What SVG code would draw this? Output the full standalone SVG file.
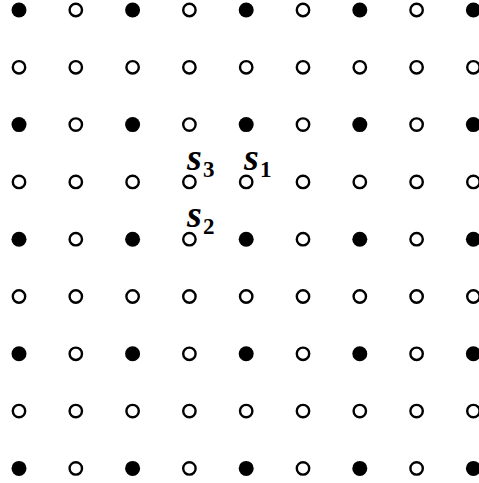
<svg xmlns="http://www.w3.org/2000/svg" width="479" height="483" viewBox="0 0 479 483">
<style>
.f{fill:#000;stroke:none}
.o{fill:#fff;stroke:#000;stroke-width:2.4}
.s{font-family:"Liberation Serif","Times New Roman",serif;font-weight:bold;font-style:italic;font-size:38px;fill:#000}
.d{font-family:"Liberation Serif","Times New Roman",serif;font-weight:bold;font-size:23px;fill:#000}
</style>
<rect width="479" height="483" fill="#fff"/>
<g id="connectors"/>
<g id="row0">
<g id="n0_0"><circle class="f" cx="19" cy="10" r="7.5"/></g>
<g id="n0_1"><circle class="o" cx="75.8" cy="10" r="6.2"/></g>
<g id="n0_2"><circle class="f" cx="132.6" cy="10" r="7.5"/></g>
<g id="n0_3"><circle class="o" cx="189.4" cy="10" r="6.2"/></g>
<g id="n0_4"><circle class="f" cx="246.2" cy="10" r="7.5"/></g>
<g id="n0_5"><circle class="o" cx="303" cy="10" r="6.2"/></g>
<g id="n0_6"><circle class="f" cx="359.8" cy="10" r="7.5"/></g>
<g id="n0_7"><circle class="o" cx="416.6" cy="10" r="6.2"/></g>
<g id="n0_8"><circle class="f" cx="473.4" cy="10" r="7.5"/></g>
</g>
<g id="row1">
<g id="n1_0"><circle class="o" cx="19" cy="67.3" r="6.2"/></g>
<g id="n1_1"><circle class="o" cx="75.8" cy="67.3" r="6.2"/></g>
<g id="n1_2"><circle class="o" cx="132.6" cy="67.3" r="6.2"/></g>
<g id="n1_3"><circle class="o" cx="189.4" cy="67.3" r="6.2"/></g>
<g id="n1_4"><circle class="o" cx="246.2" cy="67.3" r="6.2"/></g>
<g id="n1_5"><circle class="o" cx="303" cy="67.3" r="6.2"/></g>
<g id="n1_6"><circle class="o" cx="359.8" cy="67.3" r="6.2"/></g>
<g id="n1_7"><circle class="o" cx="416.6" cy="67.3" r="6.2"/></g>
<g id="n1_8"><circle class="o" cx="473.4" cy="67.3" r="6.2"/></g>
</g>
<g id="row2">
<g id="n2_0"><circle class="f" cx="19" cy="124.6" r="7.5"/></g>
<g id="n2_1"><circle class="o" cx="75.8" cy="124.6" r="6.2"/></g>
<g id="n2_2"><circle class="f" cx="132.6" cy="124.6" r="7.5"/></g>
<g id="n2_3"><circle class="o" cx="189.4" cy="124.6" r="6.2"/></g>
<g id="n2_4"><circle class="f" cx="246.2" cy="124.6" r="7.5"/></g>
<g id="n2_5"><circle class="o" cx="303" cy="124.6" r="6.2"/></g>
<g id="n2_6"><circle class="f" cx="359.8" cy="124.6" r="7.5"/></g>
<g id="n2_7"><circle class="o" cx="416.6" cy="124.6" r="6.2"/></g>
<g id="n2_8"><circle class="f" cx="473.4" cy="124.6" r="7.5"/></g>
</g>
<g id="row3">
<g id="n3_0"><circle class="o" cx="19" cy="181.9" r="6.2"/></g>
<g id="n3_1"><circle class="o" cx="75.8" cy="181.9" r="6.2"/></g>
<g id="n3_2"><circle class="o" cx="132.6" cy="181.9" r="6.2"/></g>
<g id="s3"><circle class="o" cx="189.4" cy="181.9" r="6.2"/><text class="s" x="187" y="170">s</text><text class="d" x="203" y="177">3</text></g>
<g id="s1"><circle class="o" cx="246.2" cy="181.9" r="6.2"/><text class="s" x="244" y="170">s</text><text class="d" x="260" y="177">1</text></g>
<g id="n3_5"><circle class="o" cx="303" cy="181.9" r="6.2"/></g>
<g id="n3_6"><circle class="o" cx="359.8" cy="181.9" r="6.2"/></g>
<g id="n3_7"><circle class="o" cx="416.6" cy="181.9" r="6.2"/></g>
<g id="n3_8"><circle class="o" cx="473.4" cy="181.9" r="6.2"/></g>
</g>
<g id="row4">
<g id="n4_0"><circle class="f" cx="19" cy="239.2" r="7.5"/></g>
<g id="n4_1"><circle class="o" cx="75.8" cy="239.2" r="6.2"/></g>
<g id="n4_2"><circle class="f" cx="132.6" cy="239.2" r="7.5"/></g>
<g id="s2"><circle class="o" cx="189.4" cy="239.2" r="6.2"/><text class="s" x="187" y="227">s</text><text class="d" x="203" y="234">2</text></g>
<g id="n4_4"><circle class="f" cx="246.2" cy="239.2" r="7.5"/></g>
<g id="n4_5"><circle class="o" cx="303" cy="239.2" r="6.2"/></g>
<g id="n4_6"><circle class="f" cx="359.8" cy="239.2" r="7.5"/></g>
<g id="n4_7"><circle class="o" cx="416.6" cy="239.2" r="6.2"/></g>
<g id="n4_8"><circle class="f" cx="473.4" cy="239.2" r="7.5"/></g>
</g>
<g id="row5">
<g id="n5_0"><circle class="o" cx="19" cy="296.5" r="6.2"/></g>
<g id="n5_1"><circle class="o" cx="75.8" cy="296.5" r="6.2"/></g>
<g id="n5_2"><circle class="o" cx="132.6" cy="296.5" r="6.2"/></g>
<g id="n5_3"><circle class="o" cx="189.4" cy="296.5" r="6.2"/></g>
<g id="n5_4"><circle class="o" cx="246.2" cy="296.5" r="6.2"/></g>
<g id="n5_5"><circle class="o" cx="303" cy="296.5" r="6.2"/></g>
<g id="n5_6"><circle class="o" cx="359.8" cy="296.5" r="6.2"/></g>
<g id="n5_7"><circle class="o" cx="416.6" cy="296.5" r="6.2"/></g>
<g id="n5_8"><circle class="o" cx="473.4" cy="296.5" r="6.2"/></g>
</g>
<g id="row6">
<g id="n6_0"><circle class="f" cx="19" cy="353.8" r="7.5"/></g>
<g id="n6_1"><circle class="o" cx="75.8" cy="353.8" r="6.2"/></g>
<g id="n6_2"><circle class="f" cx="132.6" cy="353.8" r="7.5"/></g>
<g id="n6_3"><circle class="o" cx="189.4" cy="353.8" r="6.2"/></g>
<g id="n6_4"><circle class="f" cx="246.2" cy="353.8" r="7.5"/></g>
<g id="n6_5"><circle class="o" cx="303" cy="353.8" r="6.2"/></g>
<g id="n6_6"><circle class="f" cx="359.8" cy="353.8" r="7.5"/></g>
<g id="n6_7"><circle class="o" cx="416.6" cy="353.8" r="6.2"/></g>
<g id="n6_8"><circle class="f" cx="473.4" cy="353.8" r="7.5"/></g>
</g>
<g id="row7">
<g id="n7_0"><circle class="o" cx="19" cy="411.1" r="6.2"/></g>
<g id="n7_1"><circle class="o" cx="75.8" cy="411.1" r="6.2"/></g>
<g id="n7_2"><circle class="o" cx="132.6" cy="411.1" r="6.2"/></g>
<g id="n7_3"><circle class="o" cx="189.4" cy="411.1" r="6.2"/></g>
<g id="n7_4"><circle class="o" cx="246.2" cy="411.1" r="6.2"/></g>
<g id="n7_5"><circle class="o" cx="303" cy="411.1" r="6.2"/></g>
<g id="n7_6"><circle class="o" cx="359.8" cy="411.1" r="6.2"/></g>
<g id="n7_7"><circle class="o" cx="416.6" cy="411.1" r="6.2"/></g>
<g id="n7_8"><circle class="o" cx="473.4" cy="411.1" r="6.2"/></g>
</g>
<g id="row8">
<g id="n8_0"><circle class="f" cx="19" cy="468.4" r="7.5"/></g>
<g id="n8_1"><circle class="o" cx="75.8" cy="468.4" r="6.2"/></g>
<g id="n8_2"><circle class="f" cx="132.6" cy="468.4" r="7.5"/></g>
<g id="n8_3"><circle class="o" cx="189.4" cy="468.4" r="6.2"/></g>
<g id="n8_4"><circle class="f" cx="246.2" cy="468.4" r="7.5"/></g>
<g id="n8_5"><circle class="o" cx="303" cy="468.4" r="6.2"/></g>
<g id="n8_6"><circle class="f" cx="359.8" cy="468.4" r="7.5"/></g>
<g id="n8_7"><circle class="o" cx="416.6" cy="468.4" r="6.2"/></g>
<g id="n8_8"><circle class="f" cx="473.4" cy="468.4" r="7.5"/></g>
</g>
</svg>
